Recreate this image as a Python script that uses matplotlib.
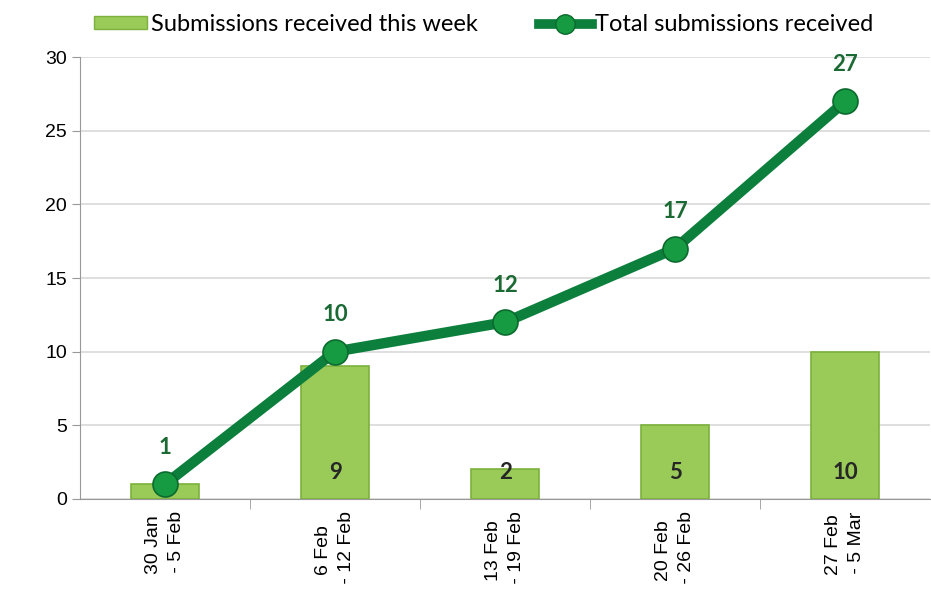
import numpy as np
import matplotlib.pyplot as plt
from matplotlib.lines import Line2D
from matplotlib.patches import Patch

weeks = ['30 Jan\n - 5 Feb', '6 Feb\n - 12 Feb', '13 Feb\n - 19 Feb',
         '20 Feb\n - 26 Feb', '27 Feb\n - 5 Mar']
weekly = [1, 9, 2, 5, 10]
total = [1, 10, 12, 17, 27]

bar_color = '#9acb58'
bar_edge = '#7bb13c'
line_color = '#0c7f3c'
label_green = '#1b6a34'

plt.rcParams['font.family'] = ['Liberation Sans', 'DejaVu Sans']

fig = plt.figure(figsize=(9.31, 5.96), dpi=100)
ax = fig.add_axes([0.086, 0.163, 0.913, 0.741])

x = np.arange(len(weeks))
ax.bar(x, weekly, width=0.4, color=bar_color, edgecolor=bar_edge, linewidth=1.2, zorder=2)
ax.plot(x, total, color=line_color, linewidth=7.5, zorder=3, solid_capstyle='round')
ax.plot(x, total, 'o', markersize=18, color='#169a42', markeredgecolor='#0b6a2e',
        markeredgewidth=1.2, zorder=4)

# data labels
lab_font = ['Lato', 'DejaVu Sans']
for xi, v in zip(x, weekly):
    if v >= 2:
        ax.text(xi, 1.8, str(v), ha='center', va='center', fontsize=16,
                fontweight='bold', color='#262626', zorder=5, family=lab_font)
for xi, v in zip(x, total):
    ax.text(xi, v + 2.5, str(v), ha='center', va='center', fontsize=16,
            fontweight='bold', color=label_green, zorder=5, family=lab_font)

ax.set_xlim(-0.5, len(weeks) - 0.5)
ax.set_ylim(0, 30)
ax.set_yticks(range(0, 31, 5))
ax.set_xticks(x)
ax.set_xticklabels(weeks, rotation=90, fontsize=14, linespacing=1.4)
ax.set_xticks(np.arange(0.5, len(weeks) - 0.5), minor=True)
ax.tick_params(axis='x', which='major', length=0, pad=9)
ax.tick_params(axis='x', which='minor', length=7, color='#999999')
ax.tick_params(axis='y', length=6, color='#999999', labelsize=14)

ax.grid(axis='y', color='#d9d9d9', linewidth=1.2, zorder=0)
ax.set_axisbelow(True)
for s in ['top', 'right']:
    ax.spines[s].set_visible(False)
for s in ['left', 'bottom']:
    ax.spines[s].set_color('#999999')

handles = [
    Patch(facecolor=bar_color, edgecolor=bar_edge, label='Submissions received this week'),
    Line2D([0], [0], color=line_color, linewidth=7, marker='o', markersize=14,
           markerfacecolor='#169a42', markeredgecolor='#0b6a2e',
           label='Total submissions received'),
]
fig.legend(handles=handles, loc='upper left', bbox_to_anchor=(0.078, 1.012), ncol=2,
           frameon=False, handlelength=2.25, handleheight=0.5, handletextpad=0.15,
           columnspacing=2.6, prop={'family': ['Lato', 'DejaVu Sans'], 'size': 17})

fig.savefig('out.png', dpi=100)
